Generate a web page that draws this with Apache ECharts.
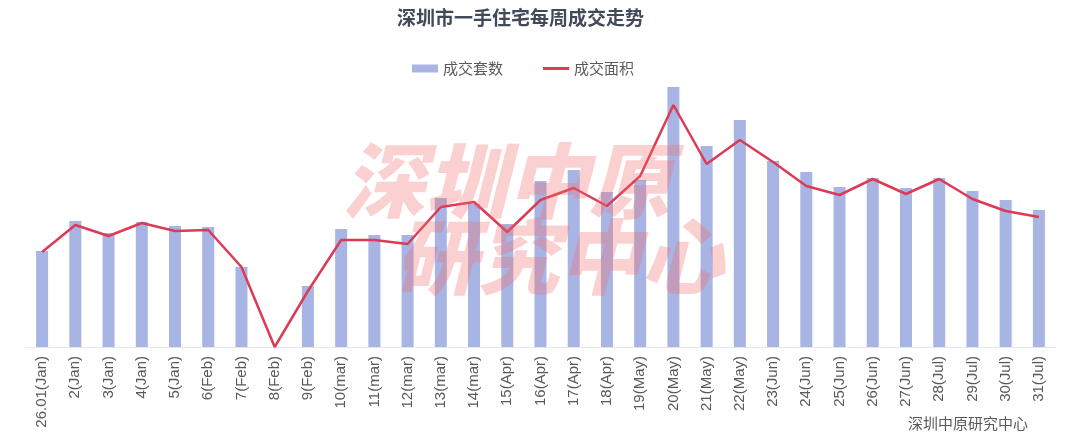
<!DOCTYPE html>
<html>
<head>
<meta charset="utf-8">
<script src="https://cdn.jsdelivr.net/npm/echarts@6/dist/echarts.min.js"></script>
<style>
html,body{margin:0;padding:0;background:#fff;}
#c{width:1080px;height:448px;}
</style>
</head>
<body>
<div id="c"></div>
<script>
var categories = ['26.01(Jan)','2(Jan)','3(Jan)','4(Jan)','5(Jan)','6(Feb)','7(Feb)','8(Feb)','9(Feb)','10(mar)','11(mar)','12(mar)','13(mar)','14(mar)','15(Apr)','16(Apr)','17(Apr)','18(Apr)','19(May)','20(May)','21(May)','22(May)','23(Jun)','24(Jun)','25(Jun)','26(Jun)','27(Jun)','28(Jul)','29(Jul)','30(Jul)','31(Jul)'];
var units = [480,630,570,625,605,600,400,0,305,590,560,560,745,715,615,830,885,775,835,1300,1005,1135,930,875,800,845,795,845,780,735,685];
var area = [4.75,6.1,5.55,6.2,5.8,5.85,4.0,0,2.8,5.35,5.35,5.15,7.0,7.25,5.75,7.35,7.95,7.05,8.55,12.1,9.15,10.35,9.25,8.05,7.6,8.4,7.65,8.4,7.4,6.8,6.5];
var seriesNames = ['成交套数','成交面积'];

var chart = echarts.init(document.getElementById('c'));
var font = 'Noto Sans CJK SC, Noto Sans, sans-serif';
chart.setOption({
  backgroundColor:'#fff',
  animation:false,
  textStyle:{fontFamily:font},
  title:{text:'深圳市一手住宅每周成交走势',left:392,top:3,
    textStyle:{fontSize:19,fontWeight:'bold',color:'#414a5b',fontFamily:font}},
  legend:{top:56,left:407,itemWidth:26,itemHeight:8,itemGap:40,
    textStyle:{fontSize:15,color:'#595959',fontFamily:font},
    data:[{name:seriesNames[0],icon:'rect'},{name:seriesNames[1],icon:'path://M0,0 L26,0 L26,3 L0,3 Z'}]},
  grid:{left:25.5,right:24.5,top:47,bottom:101,containLabel:false},
  xAxis:{type:'category',data:categories,boundaryGap:true,
    axisLine:{lineStyle:{color:'#e6e6e6',width:1}},axisTick:{show:false},
    axisLabel:{rotate:90,interval:0,fontSize:15,color:'#595959',margin:9,fontFamily:'Liberation Sans, Arial, sans-serif'}},
  yAxis:[
    {type:'value',min:0,max:1500,show:false,splitLine:{show:false}},
    {type:'value',min:0,max:15,show:false,splitLine:{show:false}}
  ],
  series:[
    {name:seriesNames[0],type:'bar',data:units,barWidth:12,yAxisIndex:0,
      itemStyle:{color:'#a8b4e4'}},
    {name:seriesNames[1],type:'line',data:area,yAxisIndex:1,symbol:'none',
      lineStyle:{color:'#dc3a55',width:2.5},itemStyle:{color:'#dc3a55'}}
  ],
  graphic:[
    {type:'text',left:343,top:140,z:100,silent:true,
      style:{text:'深圳中原',font:'italic 900 82px "Noto Sans CJK SC"',fill:'rgba(242,110,110,0.32)'}},
    {type:'text',left:395,top:216,z:100,silent:true,
      style:{text:'研究中心',font:'italic 900 82px "Noto Sans CJK SC"',fill:'rgba(242,110,110,0.32)'}},
    {type:'text',left:908,top:416,
      style:{text:'深圳中原研究中心',font:'15px "Noto Sans CJK SC"',fill:'#595959'}}
  ]
});
</script>
</body>
</html>
